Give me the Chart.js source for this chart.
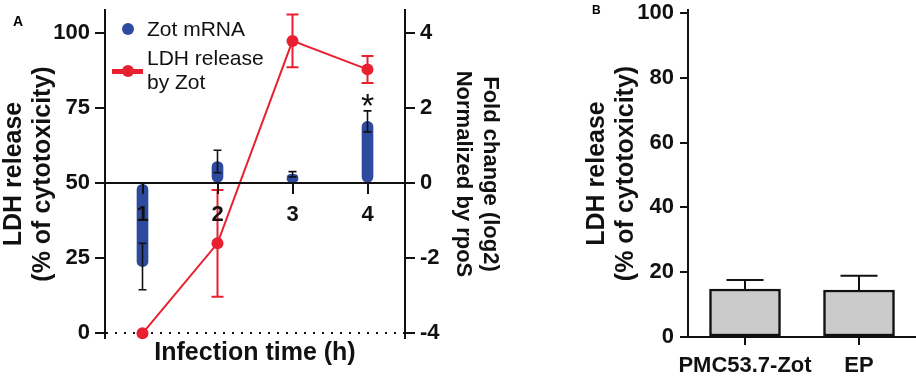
<!DOCTYPE html>
<html>
<head>
<meta charset="utf-8">
<script src="https://cdn.jsdelivr.net/npm/chart.js@4.4.1/dist/chart.umd.min.js"></script>
<style>
  body { margin: 0; background: #fff; width: 916px; height: 380px; position: relative; overflow: hidden; font-family: 'Liberation Sans', Arial, sans-serif; }
  canvas { position: absolute; top: 0; }
  #chartA { left: 0; }
  #chartB { left: 583px; }
  .panel { position: absolute; font-weight: bold; }
  .legend-text { position: absolute; left: 147px; font-size: 21px; line-height: 24px; color: #111; }
  .dot { position: absolute; width: 12px; height: 12px; border-radius: 50%; }
</style>
</head>
<body>
<canvas id="chartA" width="503" height="380"></canvas>
<canvas id="chartB" width="333" height="380"></canvas>

<div class="panel" style="left:13px; top:13px; font-size:14px;">A</div>
<div class="panel" style="left:592px; top:3px; font-size:12px;">B</div>

<div class="dot" style="left:122px; top:23px; background:#2d4a9e;"></div>
<div class="legend-text" style="top:17px;">Zot mRNA</div>
<div style="position:absolute; left:112px; top:69px; width:31px; height:5px; background:#e8202f;"></div>
<div class="dot" style="left:122px; top:65px; background:#e8202f;"></div>
<div class="legend-text" style="top:46px;">LDH release<br>by Zot</div>

<script>
// panel A values
const timeLabels = ['1', '2', '3', '4'];
const zotMrna = [-2.22, 0.58, 0.24, 1.65];
const zotMrnaErr = [0.62, 0.3, 0.07, 0.28];
const zotMarks = ['', '', '', '*'];
const ldhRelease = [0, 30, 97.5, 88];
const ldhReleaseErr = [0, 17.8, 8.8, 4.5];
const leftTicks = [0, 25, 50, 75, 100];
const rightTicks = [-4, -2, 0, 2, 4];

// panel B values
const groupLabels = ['PMC53.7-Zot', 'EP'];
const groupLdh = [14.8, 14.5];
const groupLdhErr = [2.8, 4.4];
const groupTicks = [0, 20, 40, 60, 80, 100];

const BLUE = '#2d4a9e';
const RED = '#e8202f';
const FONT = "'Liberation Sans', Arial, sans-serif";

Chart.defaults.font.family = FONT;
Chart.defaults.color = '#111';

// mean +/- error whiskers, drawn through the dataset's own scales
const errorBars = {
    id: 'errorBars',
    afterDatasetsDraw(chart) {
        const ctx = chart.ctx;
        chart.data.datasets.forEach((ds, i) => {
            if (!ds.errorBars) return;
            const meta = chart.getDatasetMeta(i);
            const yScale = chart.scales[meta.yAxisID];
            ctx.save();
            ctx.strokeStyle = ds.errorColor;
            ctx.lineWidth = ds.errorWidth;
            meta.data.forEach((el, j) => {
                const v = ds.data[j];
                const e = ds.errorBars[j];
                const x = el.x;
                const top = yScale.getPixelForValue(v + e);
                const bot = yScale.getPixelForValue(ds.errorUpOnly ? v : v - e);
                if (e) {
                    const half = ds.errorCap / 2;
                    ctx.beginPath();
                    ctx.moveTo(x, top);
                    ctx.lineTo(x, bot);
                    ctx.moveTo(x - half, top);
                    ctx.lineTo(x + half, top);
                    if (!ds.errorUpOnly) {
                        ctx.moveTo(x - half, bot);
                        ctx.lineTo(x + half, bot);
                    }
                    ctx.stroke();
                }
                if (ds.marks && ds.marks[j]) {
                    ctx.fillStyle = '#111';
                    ctx.font = '34px ' + FONT;
                    ctx.textAlign = 'center';
                    ctx.textBaseline = 'alphabetic';
                    ctx.fillText(ds.marks[j], x, top + 6);
                }
            });
            ctx.restore();
        });
    }
};

function fixWidth(w) {
    return s => { s.width = w; s.paddingTop = 0; s.paddingBottom = 0; };
}
function fixHeight(h) {
    return s => { s.height = h; s.paddingLeft = 0; s.paddingRight = 0; };
}
function setTicks(list) {
    return s => { s.ticks = list.map(v => ({ value: v })); };
}

const tickFont = { size: 22, weight: 'bold' };
const titleFont = { size: 25, weight: 'bold', lineHeight: 1.15 };

new Chart(document.getElementById('chartA'), {
    type: 'bar',
    data: {
        labels: timeLabels,
        datasets: [
            {
                type: 'line',
                label: 'LDH release by Zot',
                data: ldhRelease,
                xAxisID: 'x',
                yAxisID: 'y',
                borderColor: RED,
                borderWidth: 2,
                pointRadius: 6,
                pointBackgroundColor: RED,
                pointBorderWidth: 0,
                tension: 0,
                clip: false,
                order: 0,
                errorBars: ldhReleaseErr,
                errorColor: RED,
                errorWidth: 2,
                errorCap: 12
            },
            {
                type: 'bar',
                label: 'Zot mRNA',
                data: zotMrna,
                xAxisID: 'x',
                yAxisID: 'y2',
                backgroundColor: BLUE,
                barThickness: 11,
                borderRadius: 6,
                borderSkipped: false,
                order: 1,
                errorBars: zotMrnaErr,
                errorColor: '#111',
                errorWidth: 1.6,
                errorCap: 8,
                marks: zotMarks
            }
        ]
    },
    options: {
        responsive: false,
        animation: false,
        devicePixelRatio: 1,
        layout: { padding: { top: 10, left: 0, right: 0, bottom: 0 } },
        plugins: { legend: { display: false }, tooltip: { enabled: false } },
        scales: {
            x: {
                type: 'category',
                position: { y: 50 },
                offset: true,
                grid: { offset: false, drawOnChartArea: false, color: '#111', lineWidth: 2, tickLength: 10, z: 1 },
                border: { color: '#111', width: 2, z: 1 },
                ticks: { font: tickFont, color: '#111', padding: 8, maxRotation: 0, z: 1 },
                afterFit: s => { s.paddingLeft = 0; s.paddingRight = 0; }
            },
            x2: {
                type: 'category',
                position: 'bottom',
                grid: { display: false },
                border: { display: false },
                ticks: { display: false },
                title: { display: true, text: 'Infection time (h)', font: titleFont, color: '#111', padding: { top: 0, bottom: 13 } },
                afterFit: fixHeight(42)
            },
            y: {
                type: 'linear',
                position: 'left',
                min: -1.57,
                max: 107.8,
                grid: {
                    drawOnChartArea: true,
                    color: c => (c.tick && c.tick.value === 0 ? '#111' : 'rgba(0,0,0,0)'),
                    lineWidth: 2,
                    tickColor: '#111',
                    tickWidth: 2,
                    tickLength: 10,
                    tickBorderDash: []
                },
                border: { color: '#111', width: 2, dash: [2, 7] },
                ticks: { font: tickFont, color: '#111', padding: 5 },
                title: { display: true, text: ['LDH release', '(% of cytotoxicity)'], font: titleFont, color: '#111', padding: 0 },
                afterBuildTicks: setTicks(leftTicks),
                afterFit: fixWidth(105)
            },
            y2: {
                type: 'linear',
                position: 'right',
                min: -4.125,
                max: 4.62,
                grid: { drawOnChartArea: false, color: '#111', lineWidth: 2, tickLength: 10 },
                border: { color: '#111', width: 2 },
                ticks: { font: tickFont, color: '#111', padding: 5 },
                title: {
                    display: true,
                    text: ['Fold change (log2)', 'Normalized by rpoS'],
                    font: { size: 22, weight: 'bold', lineHeight: 1.2 },
                    color: '#111',
                    padding: 0
                },
                afterBuildTicks: setTicks(rightTicks),
                afterFit: fixWidth(98)
            }
        }
    },
    plugins: [errorBars]
});

new Chart(document.getElementById('chartB'), {
    type: 'bar',
    data: {
        labels: groupLabels,
        datasets: [{
            label: 'LDH release',
            data: groupLdh,
            backgroundColor: '#cbcbcb',
            borderColor: '#111',
            borderWidth: 2.5,
            borderSkipped: false,
            barThickness: 71,
            errorBars: groupLdhErr,
            errorColor: '#111',
            errorWidth: 2,
            errorCap: 37,
            errorUpOnly: true
        }]
    },
    options: {
        responsive: false,
        animation: false,
        devicePixelRatio: 1,
        layout: { padding: { top: 10, left: 0, right: 0, bottom: 0 } },
        plugins: { legend: { display: false }, tooltip: { enabled: false } },
        scales: {
            x: {
                grid: { offset: false, drawOnChartArea: false, color: '#111', lineWidth: 2, tickLength: 8 },
                border: { color: '#111', width: 2 },
                ticks: { font: tickFont, color: '#111', padding: 8, maxRotation: 0, autoSkip: false },
                afterFit: fixHeight(43)
            },
            y: {
                min: 0,
                max: 100.9,
                grid: { drawOnChartArea: false, color: '#111', lineWidth: 2, tickLength: 8 },
                border: { color: '#111', width: 2 },
                ticks: { font: tickFont, color: '#111', padding: 6 },
                title: { display: true, text: ['LDH release', '(% of cytotoxicity)'], font: titleFont, color: '#111', padding: 0 },
                afterBuildTicks: setTicks(groupTicks),
                afterFit: fixWidth(105)
            }
        }
    },
    plugins: [errorBars]
});
</script>
</body>
</html>
